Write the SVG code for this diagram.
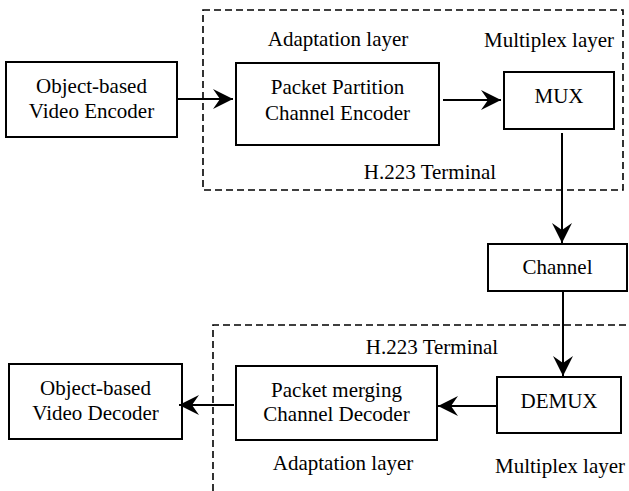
<svg xmlns="http://www.w3.org/2000/svg" width="629" height="491" viewBox="0 0 629 491">
<style>
  .box { fill: #ffffff; stroke: #000000; stroke-width: 2; }
  .dash { fill: none; stroke: #000000; stroke-width: 1.6; stroke-dasharray: 7 4; }
  text { font-family: 'Liberation Serif', 'Times New Roman', Times, serif; font-size: 21px; fill: #000000; text-anchor: middle; }
  .conn { fill: none; stroke: #000000; stroke-width: 2; }
</style>
<defs>
  <marker id="arr" markerUnits="userSpaceOnUse" markerWidth="22" markerHeight="22" viewBox="-20 -11 22 22" refX="0" refY="0" orient="auto">
    <path d="M0,0 L-20,-10 L-13,0 L-20,10 Z" fill="#000000"/>
  </marker>
</defs>
<rect id="top-terminal" class="dash" x="203" y="10" width="420" height="180"/>
<path id="bottom-terminal" class="dash" d="M213,491 L213,325 L629,325"/>
<g id="labels">
  <text x="338" y="46">Adaptation layer</text>
  <text x="549" y="47">Multiplex layer</text>
  <text x="430" y="179">H.223 Terminal</text>
  <text x="432" y="354">H.223 Terminal</text>
  <text x="343" y="470">Adaptation layer</text>
  <text x="560" y="473">Multiplex layer</text>
</g>
<g id="encoder">
  <rect class="box" x="6" y="62" width="171" height="75"/>
  <text x="91.5" y="93">Object-based</text>
  <text x="91.5" y="118">Video Encoder</text>
</g>
<g id="packet-partition">
  <rect class="box" x="236" y="63" width="203" height="82"/>
  <text x="337.5" y="94">Packet Partition</text>
  <text x="337.5" y="120">Channel Encoder</text>
</g>
<g id="mux">
  <rect class="box" x="504" y="72" width="110" height="57"/>
  <text x="559" y="103">MUX</text>
</g>
<g id="channel">
  <rect class="box" x="488" y="244" width="139" height="47"/>
  <text x="557.5" y="274">Channel</text>
</g>
<g id="demux">
  <rect class="box" x="497" y="377" width="124" height="56"/>
  <text x="559" y="408">DEMUX</text>
</g>
<g id="packet-merging">
  <rect class="box" x="236" y="366" width="201" height="74"/>
  <text x="336.5" y="397">Packet merging</text>
  <text x="336.5" y="421">Channel Decoder</text>
</g>
<g id="decoder">
  <rect class="box" x="9" y="364" width="173" height="75"/>
  <text x="95.5" y="395">Object-based</text>
  <text x="95.5" y="420">Video Decoder</text>
</g>
<g id="connectors">
  <line class="conn" x1="177" y1="99" x2="233" y2="99" marker-end="url(#arr)"/>
  <line class="conn" x1="443" y1="100" x2="501" y2="100" marker-end="url(#arr)"/>
  <line class="conn" x1="562" y1="133" x2="562" y2="243" marker-end="url(#arr)"/>
  <line class="conn" x1="563" y1="291" x2="563" y2="376" marker-end="url(#arr)"/>
  <line class="conn" x1="497" y1="406" x2="438" y2="406" marker-end="url(#arr)"/>
  <line class="conn" x1="234" y1="405" x2="179" y2="405" marker-end="url(#arr)"/>
</g>
</svg>
